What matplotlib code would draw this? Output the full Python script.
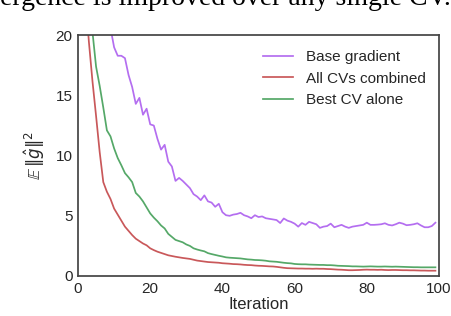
import numpy as np
from matplotlib import pyplot as plt

iterations = np.arange(100)

base_gradient = [95, 72, 56, 45, 38, 32, 28, 24.5, 22, 20.6,
                 19.0, 18.3, 18.3, 18.1, 16.7, 15.7, 14.3, 14.8, 13.4, 13.9,
                 12.6, 12.5, 11.4, 10.5, 10.9, 9.5, 9.1, 7.9, 8.15, 7.9,
                 7.6, 7.3, 6.8, 6.6, 6.3, 6.7, 6.2, 6.1, 5.75, 6.0,
                 5.3, 5.05, 5.0, 5.1, 5.15, 5.25, 5.05, 4.95, 4.8, 5.05,
                 4.9, 4.95, 4.8, 4.75, 4.7, 4.65, 4.4, 4.78, 4.6, 4.5,
                 4.35, 4.1, 4.4, 4.25, 4.5, 4.4, 4.3, 4.0, 4.1, 4.15,
                 4.35, 4.05, 4.15, 4.25, 4.1, 4.0, 4.1, 4.15, 4.2, 4.25,
                 4.43, 4.25, 4.25, 4.27, 4.3, 4.38, 4.25, 4.2, 4.3, 4.43,
                 4.35, 4.22, 4.25, 4.3, 4.38, 4.2, 4.05, 4.05, 4.15, 4.43]

all_cvs = [55, 34, 23.5, 19.5, 16.2, 13.3, 10.3, 7.8, 7.0, 6.4,
           5.6, 5.1, 4.6, 4.1, 3.75, 3.4, 3.1, 2.9, 2.7, 2.55,
           2.3, 2.15, 2.02, 1.92, 1.82, 1.72, 1.66, 1.6, 1.55, 1.5,
           1.46, 1.42, 1.35, 1.28, 1.24, 1.2, 1.16, 1.14, 1.12, 1.1,
           1.06, 1.04, 1.02, 0.99, 0.98, 0.96, 0.93, 0.91, 0.9, 0.87,
           0.85, 0.84, 0.82, 0.8, 0.79, 0.76, 0.72, 0.68, 0.65, 0.64,
           0.63, 0.62, 0.62, 0.61, 0.61, 0.6, 0.61, 0.6, 0.6, 0.58,
           0.57, 0.55, 0.53, 0.52, 0.5, 0.48, 0.48, 0.49, 0.5, 0.52,
           0.53, 0.52, 0.52, 0.51, 0.52, 0.5, 0.49, 0.5, 0.5, 0.49,
           0.48, 0.48, 0.47, 0.47, 0.46, 0.45, 0.45, 0.44, 0.44, 0.44]

best_cv = [70, 45, 32, 24.5, 20.3, 17.4, 15.8, 14.0, 12.1, 11.6,
           10.6, 9.8, 9.2, 8.55, 8.2, 7.8, 6.9, 6.6, 6.2, 5.7,
           5.2, 4.85, 4.55, 4.2, 3.95, 3.5, 3.25, 3.0, 2.9, 2.8,
           2.62, 2.5, 2.3, 2.2, 2.12, 2.05, 1.9, 1.82, 1.75, 1.68,
           1.62, 1.55, 1.52, 1.5, 1.48, 1.46, 1.42, 1.38, 1.36, 1.33,
           1.32, 1.3, 1.27, 1.22, 1.2, 1.18, 1.14, 1.1, 1.07, 1.05,
           1.0, 0.98, 0.97, 0.97, 0.95, 0.94, 0.93, 0.92, 0.92, 0.9,
           0.9, 0.88, 0.85, 0.84, 0.83, 0.82, 0.8, 0.8, 0.79, 0.78,
           0.79, 0.8, 0.79, 0.78, 0.78, 0.79, 0.78, 0.77, 0.78, 0.77,
           0.76, 0.75, 0.74, 0.73, 0.73, 0.72, 0.72, 0.72, 0.72, 0.72]

plt.rcParams['font.family'] = ['Liberation Sans', 'DejaVu Sans']
plt.rcParams['mathtext.fontset'] = 'dejavusans'

fig = plt.figure(figsize=(4.52, 3.16), dpi=100)
ax = fig.add_axes([0.1726, 0.1266, 0.7987, 0.7617])

# clipped caption line from the page above the figure
fig.text(0.0, 0.985, 'ergence is improved over any single CV.', family='Liberation Serif',
         fontsize=20, color='black', va='baseline', ha='left')

ax.plot(iterations, base_gradient, color='#b46ef0', lw=1.25, label='Base gradient')
ax.plot(iterations, all_cvs, color='#c9585a', lw=1.25, label='All CVs combined')
ax.plot(iterations, best_cv, color='#55a868', lw=1.25, label='Best CV alone')

ax.set_xlim(0, 100)
ax.set_ylim(0, 20)
ax.set_xticks([0, 20, 40, 60, 80, 100])
ax.set_yticks([0, 5, 10, 15, 20])
ax.tick_params(length=0, labelsize=11, labelcolor='#262626', pad=4)
ax.set_xlabel('Iteration', fontsize=12, color='#262626', labelpad=1)
ax.set_ylabel(r'$\mathbb{E}\,\|\hat{g}\|^2$', fontsize=12, color='#262626', labelpad=6)
for s in ax.spines.values():
    s.set_color('#444444')
    s.set_linewidth(1.25)

ax.legend(loc='upper right', bbox_to_anchor=(0.992, 0.983), frameon=False, fontsize=11,
          handlelength=2.0, labelcolor='#262626', borderaxespad=0.3)

plt.savefig('out.png', dpi=100)
